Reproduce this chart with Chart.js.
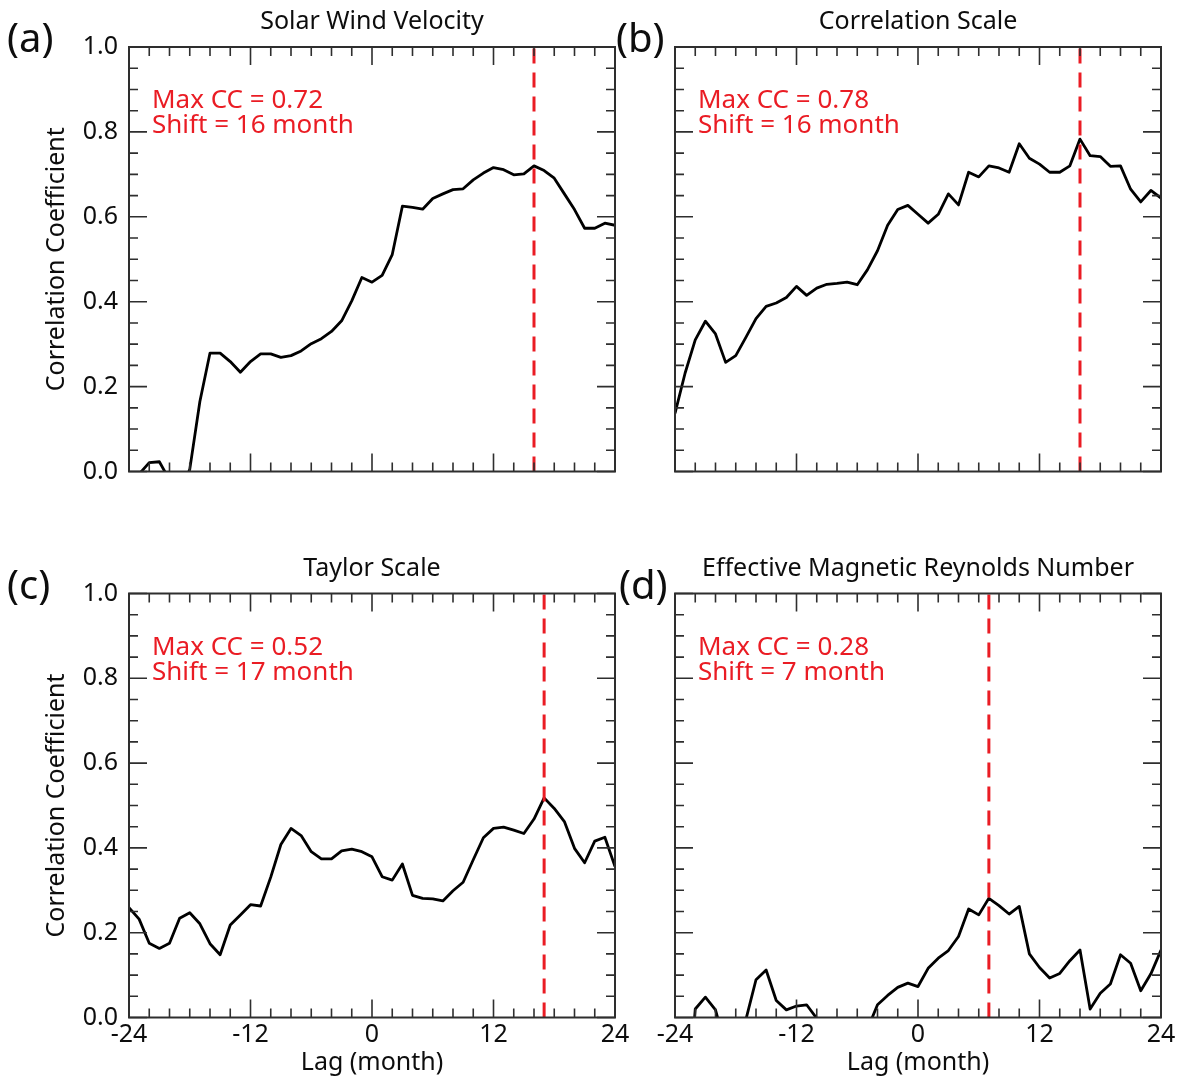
<!DOCTYPE html>
<html>
<head>
<meta charset="utf-8">
<script src="https://cdn.jsdelivr.net/npm/chart.js@4.4.1/dist/chart.umd.min.js"></script>
<style>
html,body{margin:0;padding:0;background:#ffffff;}
#wrap{position:relative;width:1182px;height:1082px;overflow:hidden;background:#ffffff;}
#wrap canvas{position:absolute;left:0;top:0;}
</style>
</head>
<body>
<div id="wrap">
<canvas id="pa" width="1182" height="1082"></canvas>
<canvas id="pb" width="1182" height="1082"></canvas>
<canvas id="pc" width="1182" height="1082"></canvas>
<canvas id="pd" width="1182" height="1082"></canvas>
</div>
<script>
// ---------------- data ----------------
const lags = [-24,-23,-22,-21,-20,-19,-18,-17,-16,-15,-14,-13,-12,-11,-10,-9,-8,-7,-6,-5,-4,-3,-2,-1,0,
               1,2,3,4,5,6,7,8,9,10,11,12,13,14,15,16,17,18,19,20,21,22,23,24];

const solarWindVelocity = [-0.10,-0.006,0.021,0.023,-0.02,-0.05,0.005,0.165,0.279,0.279,0.259,0.234,0.259,0.277,0.277,0.269,0.273,0.284,0.301,0.313,0.330,0.355,0.402,0.457,0.446,
               0.462,0.511,0.625,0.622,0.618,0.643,0.654,0.664,0.666,0.687,0.703,0.716,0.711,0.699,0.701,0.720,0.709,0.691,0.654,0.617,0.573,0.573,0.585,0.580];

const correlationScale = [0.137,0.232,0.310,0.354,0.324,0.257,0.273,0.316,0.360,0.389,0.397,0.410,0.436,0.415,0.432,0.441,0.443,0.446,0.440,0.475,0.520,0.580,0.617,0.627,0.606,
               0.585,0.606,0.654,0.628,0.705,0.694,0.720,0.715,0.705,0.772,0.738,0.724,0.705,0.705,0.720,0.783,0.744,0.742,0.719,0.720,0.665,0.635,0.662,0.644];

const taylorScale = [0.259,0.232,0.175,0.163,0.175,0.234,0.247,0.221,0.174,0.148,0.218,0.242,0.266,0.263,0.331,0.408,0.446,0.429,0.391,0.374,0.374,0.393,0.397,0.391,0.379,
               0.332,0.324,0.362,0.288,0.281,0.280,0.275,0.299,0.319,0.372,0.424,0.446,0.449,0.442,0.434,0.468,0.518,0.493,0.462,0.399,0.365,0.416,0.425,0.356];

const magneticReynolds = [-0.30,-0.30,0.020,0.048,0.018,-0.07,-0.08,-0.005,0.089,0.112,0.040,0.018,0.027,0.030,-0.002,-0.05,-0.08,-0.08,-0.06,-0.028,0.030,0.052,0.071,0.081,0.073,
               0.116,0.140,0.158,0.191,0.256,0.242,0.281,0.264,0.244,0.262,0.150,0.118,0.093,0.104,0.134,0.159,0.020,0.057,0.079,0.148,0.128,0.063,0.103,0.159];

const panelLetters = ['(a)','(b)','(c)','(d)'];
const panelTitles = ['Solar Wind Velocity','Correlation Scale','Taylor Scale','Effective Magnetic Reynolds Number'];
const maxCC = [0.72, 0.78, 0.52, 0.28];
const shiftMonths = [16, 16, 17, 7];
const xTickValues = [-24, -12, 0, 12, 24];
const yTickValues = [0.0, 0.2, 0.4, 0.6, 0.8, 1.0];
const xAxisTitle = 'Lag (month)';
const yAxisTitle = 'Correlation Coefficient';
const seriesList = [solarWindVelocity, correlationScale, taylorScale, magneticReynolds];

// ---------------- layout / style ----------------
const FONT = '"Noto Sans", "Open Sans", sans-serif';
const RED = '#ea1c24';
const FRAME = '#2e2e2e';
const TXT = '#0d0d0d';
const W = 1182, H = 1082, YAXW = 129, XAXH = 60;
const layouts = [
  {id:'pa', left:129, right:615, top:47, bottom:471.5, showX:false, showY:true, labelX:7},
  {id:'pb', left:675, right:1161, top:47, bottom:471.5, showX:false, showY:false, labelX:616},
  {id:'pc', left:129, right:615, top:593.5, bottom:1017.5, showX:true, showY:true, labelX:7},
  {id:'pd', left:675, right:1161, top:593.5, bottom:1017.5, showX:true, showY:false, labelX:619}
];

const decorPlugin = {
  id: 'decor',
  afterDraw(chart, args, opts) {
    const {ctx, chartArea: a, scales} = chart;
    const xs = scales.x, ys = scales.y;
    ctx.save();
    // inward ticks
    ctx.strokeStyle = FRAME;
    ctx.lineWidth = 1.6;
    ctx.beginPath();
    const xMin = xTickValues[0], xMax = xTickValues[xTickValues.length - 1];
    for (let v = xMin; v <= xMax; v += 2) {
      const px = xs.getPixelForValue(v);
      const len = xTickValues.includes(v) ? 18 : 9;
      ctx.moveTo(px, a.bottom); ctx.lineTo(px, a.bottom - len);
      ctx.moveTo(px, a.top); ctx.lineTo(px, a.top + len);
    }
    for (let k = 0; k <= 20; k++) {
      const v = k * 0.05;
      const py = ys.getPixelForValue(v);
      const len = (k % 4 === 0) ? 18 : 9;
      ctx.moveTo(a.left, py); ctx.lineTo(a.left + len, py);
      ctx.moveTo(a.right, py); ctx.lineTo(a.right - len, py);
    }
    ctx.stroke();
    // frame
    ctx.lineWidth = 2;
    ctx.strokeRect(a.left, a.top, a.right - a.left, a.bottom - a.top);
    // texts
    ctx.fillStyle = TXT;
    ctx.textBaseline = 'middle';
    ctx.textAlign = 'center';
    ctx.font = '25px ' + FONT;
    ctx.fillText(opts.title, (a.left + a.right) / 2, a.top - 25);
    ctx.textAlign = 'left';
    ctx.font = '40px ' + FONT;
    ctx.fillText(opts.letter, opts.labelX, a.top - 6);
    ctx.fillStyle = RED;
    ctx.font = '26px ' + FONT;
    ctx.fillText('Max CC = ' + opts.cc.toFixed(2), a.left + 23, a.top + 54);
    ctx.fillText('Shift = ' + opts.shift + ' month', a.left + 23, a.top + 79);
    ctx.restore();
  }
};

layouts.forEach((L, i) => {
  const series = seriesList[i];
  const points = lags.map((x, j) => ({x: x, y: series[j]}));
  const shiftLine = [{x: shiftMonths[i], y: yTickValues[0]}, {x: shiftMonths[i], y: yTickValues[yTickValues.length - 1]}];
  new Chart(document.getElementById(L.id), {
    type: 'line',
    data: {
      datasets: [
        {data: shiftLine, borderColor: RED, borderWidth: 3, borderDash: [15, 9], pointRadius: 0, order: 0, fill: false},
        {data: points, borderColor: '#000000', borderWidth: 2.8, pointRadius: 0, tension: 0, order: 1, fill: false, borderJoinStyle: 'round'}
      ]
    },
    options: {
      responsive: false,
      animation: false,
      devicePixelRatio: 1,
      events: [],
      layout: {padding: {left: L.left - YAXW, top: L.top, right: W - L.right, bottom: H - L.bottom - XAXH}},
      plugins: {
        legend: {display: false},
        tooltip: {enabled: false},
        title: {display: false},
        decor: {title: panelTitles[i], letter: panelLetters[i], cc: maxCC[i], shift: shiftMonths[i], labelX: L.labelX}
      },
      scales: {
        x: {
          type: 'linear', position: 'bottom',
          min: xTickValues[0], max: xTickValues[xTickValues.length - 1],
          afterFit: s => { s.height = XAXH; },
          afterBuildTicks: s => { s.ticks = xTickValues.map(v => ({value: v})); },
          grid: {display: false, drawTicks: false},
          border: {display: false},
          ticks: {display: L.showX, padding: 2, color: TXT, maxRotation: 0, autoSkip: false,
                  font: {family: FONT, size: 25}, callback: v => String(v)},
          title: {display: L.showX, text: xAxisTitle, color: TXT, font: {family: FONT, size: 25},
                  padding: {top: 0, bottom: 0}}
        },
        y: {
          type: 'linear', position: 'left',
          min: yTickValues[0], max: yTickValues[yTickValues.length - 1],
          afterFit: s => { s.width = YAXW; },
          afterBuildTicks: s => { s.ticks = yTickValues.map(v => ({value: v})); },
          grid: {display: false, drawTicks: false},
          border: {display: false},
          ticks: {display: L.showY, padding: 11, color: TXT,
                  font: {family: FONT, size: 25}, callback: v => Number(v).toFixed(1)},
          title: {display: L.showY, text: yAxisTitle, color: TXT, font: {family: FONT, size: 25},
                  padding: {top: 42, bottom: 0}}
        }
      }
    },
    plugins: [decorPlugin]
  });
});
</script>
</body>
</html>
